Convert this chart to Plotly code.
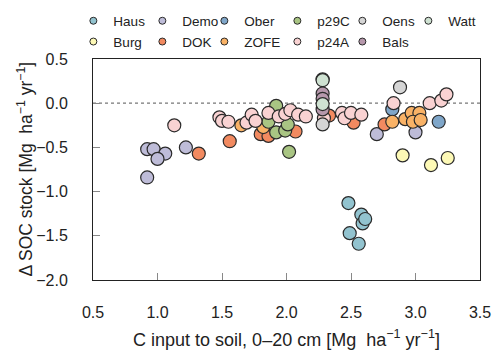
import plotly.graph_objects as go

# ---- data ----
sites = ["Haus", "Burg", "Demo", "DOK", "Ober", "ZOFE", "p29C", "p24A", "Oens", "Bals", "Watt"]
colors = {
    "Haus": "#92c3cf", "Demo": "#bebcd8", "Ober": "#7fa6c9", "p29C": "#a9c583",
    "Oens": "#d5d5d5", "Watt": "#cfe2d2", "Burg": "#fdf9b6", "DOK": "#f28a60",
    "ZOFE": "#f9b266", "p24A": "#f9d2d2", "Bals": "#b698ac",
}

haus_x = [2.48, 2.58, 2.59, 2.61, 2.49, 2.56]
haus_y = [-1.13, -1.26, -1.36, -1.31, -1.47, -1.59]
burg_x = [2.90, 3.12, 3.25]
burg_y = [-0.59, -0.70, -0.62]
demo_x = [0.92, 0.97, 1.06, 1.00, 0.92, 1.22, 2.70, 3.00]
demo_y = [-0.52, -0.52, -0.57, -0.63, -0.84, -0.50, -0.35, -0.33]
dok_x = [1.32, 1.56, 1.80, 1.86, 2.07, 2.33, 2.52, 2.76]
dok_y = [-0.57, -0.43, -0.35, -0.37, -0.32, -0.14, -0.22, -0.24]
ober_x = [2.82, 3.18]
ober_y = [-0.07, -0.21]
zofe_x = [1.65, 1.82, 2.82, 2.92, 2.97, 3.03, 2.98, 3.04]
zofe_y = [-0.25, -0.27, -0.21, -0.18, -0.11, -0.11, -0.21, -0.19]
p29c_x = [1.92, 1.86, 1.92, 1.99, 2.01, 2.02]
p29c_y = [-0.03, -0.21, -0.33, -0.31, -0.24, -0.55]
p24a_x = [1.13, 1.48, 1.50, 1.55, 1.69, 1.73, 1.76, 1.86, 1.94, 1.99, 2.03, 2.09, 2.15,
          2.29, 2.43, 2.45, 2.50, 2.58, 2.83, 3.11, 3.20, 3.24]
p24a_y = [-0.25, -0.16, -0.20, -0.21, -0.22, -0.13, -0.20, -0.11, -0.15, -0.12, -0.08, -0.13, -0.15,
          -0.17, -0.11, -0.17, -0.11, -0.13, 0.00, 0.00, 0.03, 0.10]
oens_x = [2.28, 2.88]
oens_y = [-0.24, 0.18]
bals_x = [2.28, 2.28, 2.28]
bals_y = [0.11, 0.05, -0.07]
watt_x = [2.28, 2.28, 2.28]
watt_y = [0.27, 0.26, -0.01]

data = {
    "Haus": (haus_x, haus_y), "Burg": (burg_x, burg_y), "Demo": (demo_x, demo_y),
    "DOK": (dok_x, dok_y), "Ober": (ober_x, ober_y), "ZOFE": (zofe_x, zofe_y),
    "p29C": (p29c_x, p29c_y), "p24A": (p24a_x, p24a_y), "Oens": (oens_x, oens_y),
    "Bals": (bals_x, bals_y), "Watt": (watt_x, watt_y),
}

legend_row1 = ["Haus", "Demo", "Ober", "p29C", "Oens", "Watt"]
legend_row2 = ["Burg", "DOK", "ZOFE", "p24A", "Bals"]
col_width = [28, 21, 32, 24, 25, 40]

x_ticks = [0.5, 1.0, 1.5, 2.0, 2.5, 3.0, 3.5]
y_ticks = [-2.0, -1.5, -1.0, -0.5, 0.0, 0.5]

x_title = "C input to soil, 0\u201320 cm [Mg\u00a0\u00a0ha<sup>\u22121</sup> yr<sup>\u22121</sup>]"
y_title = "\u0394 SOC stock [Mg\u00a0\u00a0ha<sup>\u22121</sup> yr<sup>\u22121</sup>]"

FONT = "Liberation Sans, Arial, Helvetica, sans-serif"
EDGE = "#2a2a2a"
TXT = "#222222"

fig = go.Figure()
for s in sites:
    xs, ys = data[s]
    fig.add_trace(go.Scatter(
        x=xs, y=ys, mode="markers", name=s, showlegend=False,
        marker=dict(size=13, color=colors[s], line=dict(color=EDGE, width=1.2)),
        hoverinfo="skip",
    ))

for row, leg in ((legend_row1, "legend"), (legend_row2, "legend2")):
    for i, s in enumerate(row):
        w = col_width[i] if i < len(row) - 1 else 40
        fig.add_trace(go.Scatter(
            x=[None], y=[None], mode="markers", name=s, legend=leg,
            legendwidth=w,
            marker=dict(size=7, color=colors[s], line=dict(color=EDGE, width=1)),
        ))

fig.add_shape(type="line", xref="paper", x0=0, x1=1, yref="y", y0=0, y1=0,
              line=dict(color="#777777", width=1.2, dash="dot"), layer="below")

axis_common = dict(
    showgrid=False, zeroline=False, showline=True, linecolor="#222222", linewidth=1,
    mirror=True, ticks="inside", ticklen=7, tickcolor="#888888", tickwidth=1,
    tickfont=dict(family=FONT, size=16, color=TXT), automargin=False,
)

legend_common = dict(orientation="h", xanchor="left", yanchor="middle", indentation=-4,
                     bgcolor="rgba(0,0,0,0)", borderwidth=0,
                     font=dict(family=FONT, size=13.5, color=TXT),
                     itemclick=False, itemdoubleclick=False)

fig.update_layout(
    width=494, height=350,
    margin=dict(l=93, r=14, t=59, b=70, autoexpand=False),
    paper_bgcolor="white", plot_bgcolor="white",
    font=dict(family=FONT, size=16, color=TXT),
    xaxis=dict(range=[0.5, 3.5], tickvals=x_ticks, tickformat=".1f",
               ticklabelstandoff=18,
               title=dict(text=x_title, standoff=16, font=dict(family=FONT, size=18, color=TXT)),
               **axis_common),
    yaxis=dict(range=[-2.0, 0.5], tickvals=y_ticks, tickformat=".1f",
               ticklabelstandoff=21, **axis_common),
    legend=dict(x=-0.0404, y=1.172, **legend_common),
    legend2=dict(x=-0.0404, y=1.078, **legend_common),
    annotations=[dict(text=y_title, textangle=-90, xref="paper", yref="paper",
                      x=-0.178, y=0.5, xanchor="center", yanchor="middle", showarrow=False,
                      font=dict(family=FONT, size=17.5, color=TXT))],
)

fig.write_html("out.html")
